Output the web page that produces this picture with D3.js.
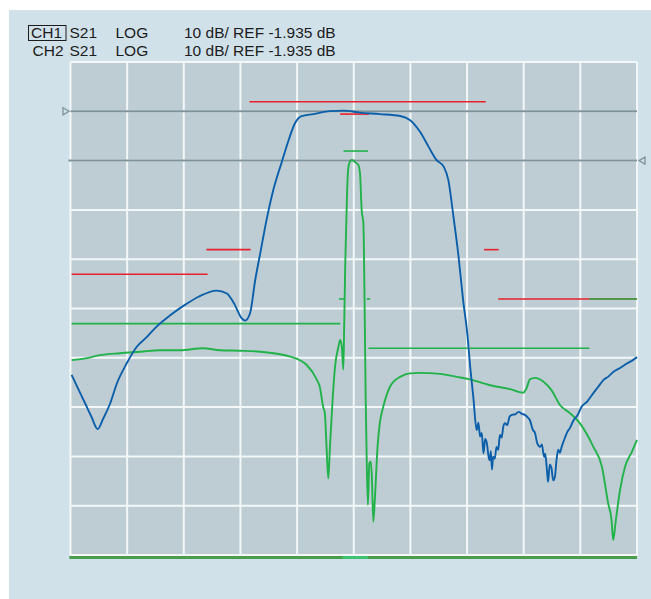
<!DOCTYPE html>
<html>
<head>
<meta charset="utf-8">
<script src="https://cdn.jsdelivr.net/npm/d3@7"></script>
<style>
  body { margin: 0; background: #fff; }
  svg { display: block; font-family: "Liberation Sans", Arial, sans-serif; }
</style>
</head>
<body>
<svg></svg>
<script>
// channel header info
var channels = ["CH1", "CH2"];
var params = ["S21", "S21"];
var formats = ["LOG", "LOG"];
var scaleText = ["10 dB/ REF -1.935 dB", "10 dB/ REF -1.935 dB"];
var refValue = [-1.935, -1.935];   // dB
var refDiv = [1, 2];                // reference position, divisions from top
var dbPerDiv = 10;

// CH1 (blue) trace: [freq div, dB]
var ch1 = [
  [0.02, -55.4], [0.13, -58.1], [0.26, -61.2], [0.37, -63.9], [0.48, -66.4],
  [0.58, -64.2], [0.70, -61.2], [0.82, -57.1], [0.99, -53.1], [1.17, -49.7],
  [1.35, -47.7], [1.52, -45.6], [1.76, -43.3], [2.02, -41.2], [2.27, -39.5],
  [2.58, -38.3], [2.76, -38.9], [2.90, -41.2], [3.02, -43.9], [3.08, -44.4],
  [3.17, -42.9], [3.26, -36.2], [3.35, -30.7], [3.46, -24.0], [3.58, -17.9],
  [3.73, -12.2], [3.85, -7.8], [3.96, -4.4], [4.08, -2.9], [4.29, -2.5],
  [4.58, -1.9], [4.82, -1.8], [5.11, -2.2], [5.46, -2.5], [5.82, -2.9],
  [5.99, -3.7], [6.17, -6.1], [6.32, -9.1], [6.46, -11.8], [6.59, -13.2],
  [6.67, -15.9], [6.76, -23.3], [6.85, -31.4], [6.93, -40.2], [7.01, -47.7],
  [7.05, -53.1], [7.11, -59.8], [7.17, -66.6], [7.20, -65.1], [7.23, -67.9],
  [7.26, -67.2], [7.29, -71.3], [7.32, -68.4], [7.35, -69.3], [7.38, -72.0],
  [7.40, -72.7], [7.42, -70.9], [7.44, -74.6], [7.46, -72.0], [7.49, -72.4],
  [7.52, -70.0], [7.55, -70.6], [7.58, -67.6], [7.61, -68.1], [7.64, -65.9],
  [7.67, -65.2], [7.71, -65.6], [7.75, -63.9], [7.79, -63.5], [7.85, -63.4],
  [7.91, -62.9], [7.97, -63.3], [8.02, -63.5], [8.07, -64.0], [8.11, -64.6],
  [8.16, -66.5], [8.20, -67.2], [8.24, -69.3], [8.29, -70.0], [8.32, -69.5],
  [8.36, -72.0], [8.38, -71.4], [8.41, -74.7], [8.43, -77.1], [8.46, -73.6],
  [8.49, -74.3], [8.52, -76.8], [8.55, -76.1], [8.58, -72.6], [8.61, -70.6],
  [8.64, -71.2], [8.67, -70.0], [8.72, -68.4], [8.76, -67.2], [8.82, -66.1],
  [8.88, -64.6], [8.95, -63.6], [9.02, -61.9], [9.12, -60.8], [9.23, -59.1],
  [9.31, -57.9], [9.41, -56.4], [9.50, -55.7], [9.58, -54.8], [9.70, -54.0],
  [9.82, -53.1], [9.90, -52.6], [10.0, -51.8]
];

// CH2 (green) trace: [freq div, dB]
var ch2 = [
  [0.02, -42.4], [0.29, -42.0], [0.52, -41.4], [0.87, -41.0], [1.23, -40.7],
  [1.58, -40.4], [1.93, -40.4], [2.34, -40.0], [2.64, -40.4], [2.99, -40.5],
  [3.35, -40.7], [3.88, -41.7], [4.17, -43.4], [4.35, -46.4], [4.40, -47.8],
  [4.46, -51.9], [4.49, -53.2], [4.52, -60.0], [4.55, -66.4], [4.58, -60.0],
  [4.63, -49.8], [4.67, -43.7], [4.73, -39.7], [4.76, -38.3], [4.79, -39.7],
  [4.816, -44.3], [4.83, -36.3], [4.85, -22.8], [4.88, -9.3], [4.90, -3.8],
  [4.93, -2.2], [4.97, -1.8], [5.02, -2.2], [5.08, -2.8], [5.11, -4.5],
  [5.14, -12.0], [5.17, -14.7], [5.19, -29.5], [5.21, -49.8], [5.23, -63.3],
  [5.25, -71.8], [5.275, -63.3], [5.30, -63.0], [5.32, -66.1], [5.345, -75.2],
  [5.375, -70.1], [5.42, -60.0], [5.46, -55.2], [5.52, -51.9], [5.58, -49.5],
  [5.64, -47.8], [5.70, -46.8], [5.82, -45.8], [5.99, -45.1], [6.17, -45.0],
  [6.52, -45.2], [6.82, -45.8], [7.05, -46.3], [7.41, -47.5], [7.76, -48.3],
  [7.99, -49.0], [8.05, -48.1], [8.11, -46.3], [8.20, -46.0], [8.35, -46.8],
  [8.49, -48.5], [8.64, -51.5], [8.82, -53.2], [8.99, -55.2], [9.23, -60.0],
  [9.38, -64.0], [9.49, -71.4], [9.55, -74.8], [9.58, -78.9], [9.62, -75.5],
  [9.70, -68.8], [9.79, -64.0], [9.91, -61.0], [10.0, -58.6]
];

// limit lines: [start div, end div, dB]
var ch1Limits = [
  [3.16, 7.33, 0], [4.76, 5.27, -2.5], [2.40, 3.18, -30], [0.02, 2.42, -35],
  [7.30, 7.56, -30], [7.55, 10, -40]
];
var ch2Limits = [
  [4.82, 5.25, 0], [9.16, 10, -30], [0.02, 4.76, -35], [4.74, 4.83, -30],
  [5.23, 5.29, -30], [5.26, 9.16, -40]
];
var ch2Floor = [[-0.02, 10, -90]];
var ch2FloorMid = [[4.8, 5.25, -90]];

// configure size and plot area
var config = { w: 651, h: 599, l: 70.5, r: 637, t: 62, b: 555, divs: 10 };

var svg = d3.select("svg").attr("width", config.w).attr("height", config.h);

// setup scales
var x = d3.scaleLinear().domain([0, 10]).range([config.l, config.r]);
var yDiv = d3.scaleLinear().domain([0, config.divs]).range([config.t, config.b]);
function chScale(i) {
  var top = refValue[i] + refDiv[i] * dbPerDiv;
  return d3.scaleLinear()
    .domain([top - config.divs * dbPerDiv, top])
    .range([config.b, config.t])
    .clamp(true);
}
var y1 = chScale(0);
var y2 = chScale(1);

// background panel
svg.append("rect").attr("x", 9).attr("y", 10)
  .attr("width", config.w - 9).attr("height", config.h - 10)
  .attr("fill", "#d1e1ea");

svg.append("rect").attr("x", config.l).attr("y", config.t)
  .attr("width", config.r - config.l).attr("height", config.b - config.t)
  .attr("fill", "#bdcdd3");

// grid
var ticks = d3.range(0, config.divs + 1);
svg.append("g").selectAll("line.v").data(ticks).enter().append("line")
  .attr("x1", function(d) { return x(d); }).attr("x2", function(d) { return x(d); })
  .attr("y1", config.t).attr("y2", config.b)
  .attr("stroke", "#f4f7f8").attr("stroke-width", 2);
svg.append("g").selectAll("line.h").data(ticks).enter().append("line")
  .attr("y1", function(d) { return yDiv(d); }).attr("y2", function(d) { return yDiv(d); })
  .attr("x1", config.l).attr("x2", config.r)
  .attr("stroke", "#f4f7f8").attr("stroke-width", 2);

// reference lines + markers
var refs = [{ y: y1(refValue[0]), x0: config.l, side: "left" },
            { y: y2(refValue[1]), x0: config.l - 2, side: "right" }];
svg.append("g").selectAll("line").data(refs).enter().append("line")
  .attr("x1", function(d) { return d.x0; }).attr("x2", config.r)
  .attr("y1", function(d) { return d.y; }).attr("y2", function(d) { return d.y; })
  .attr("stroke", "#7e939b").attr("stroke-width", 2);
svg.append("g").selectAll("path").data(refs).enter().append("path")
  .attr("d", function(d) {
    if (d.side == "left") {
      return "M63," + (d.y - 3.5) + "L69," + d.y + "L63," + (d.y + 3.5) + "Z";
    }
    return "M645," + (d.y - 3.5) + "L639," + d.y + "L645," + (d.y + 3.5) + "Z";
  })
  .attr("fill", "none").attr("stroke", "#7e939b").attr("stroke-width", 1.3);

// clip for traces
svg.append("clipPath").attr("id", "plotclip").append("rect")
  .attr("x", config.l - 1).attr("y", config.t - 1)
  .attr("width", config.r - config.l + 2).attr("height", config.b - config.t + 2);

function drawLimits(data, ys, color, width, dy) {
  svg.append("g").selectAll("line").data(data).enter().append("line")
    .attr("x1", function(d) { return x(d[0]); }).attr("x2", function(d) { return x(d[1]); })
    .attr("y1", function(d) { return ys(d[2]) + dy; }).attr("y2", function(d) { return ys(d[2]) + dy; })
    .attr("stroke", color).attr("stroke-width", width);
}

drawLimits(ch1Limits, y1, "#e8212c", 1.6, 0);
drawLimits(ch2Limits, y2, "#22b24a", 1.6, 0);
drawLimits(ch2Floor, y2, "#4a9d4d", 3, 2.5);
drawLimits(ch2FloorMid, y2, "#3ec170", 3, 2.5);

// traces
function drawTrace(data, ys, color) {
  var line = d3.line()
    .curve(d3.curveMonotoneX)
    .x(function(d) { return x(d[0]); })
    .y(function(d) { return ys(d[1]); });
  svg.append("path").datum(data)
    .attr("clip-path", "url(#plotclip)")
    .attr("d", line)
    .attr("fill", "none").attr("stroke", color)
    .attr("stroke-width", 1.9).attr("stroke-linejoin", "round");
}

drawTrace(ch2, y2, "#22b24a");
drawTrace(ch1, y1, "#0b5eaa");

// header
var head = svg.append("g").attr("font-size", 15.5).attr("fill", "#1c1c1c");
channels.forEach(function(c, i) {
  var by = 38 + i * 18;
  head.append("text").attr("x", i == 0 ? 31 : 32.5).attr("y", by).text(c);
  head.append("text").attr("x", 69.5).attr("y", by).text(params[i]);
  head.append("text").attr("x", 115.5).attr("y", by).text(formats[i]);
  head.append("text").attr("x", 184).attr("y", by).text(scaleText[i]);
});
head.append("rect").attr("x", 28.5).attr("y", 25.5).attr("width", 37.5).attr("height", 15)
  .attr("fill", "none").attr("stroke", "#1c1c1c").attr("stroke-width", 1);
</script>
</body>
</html>
